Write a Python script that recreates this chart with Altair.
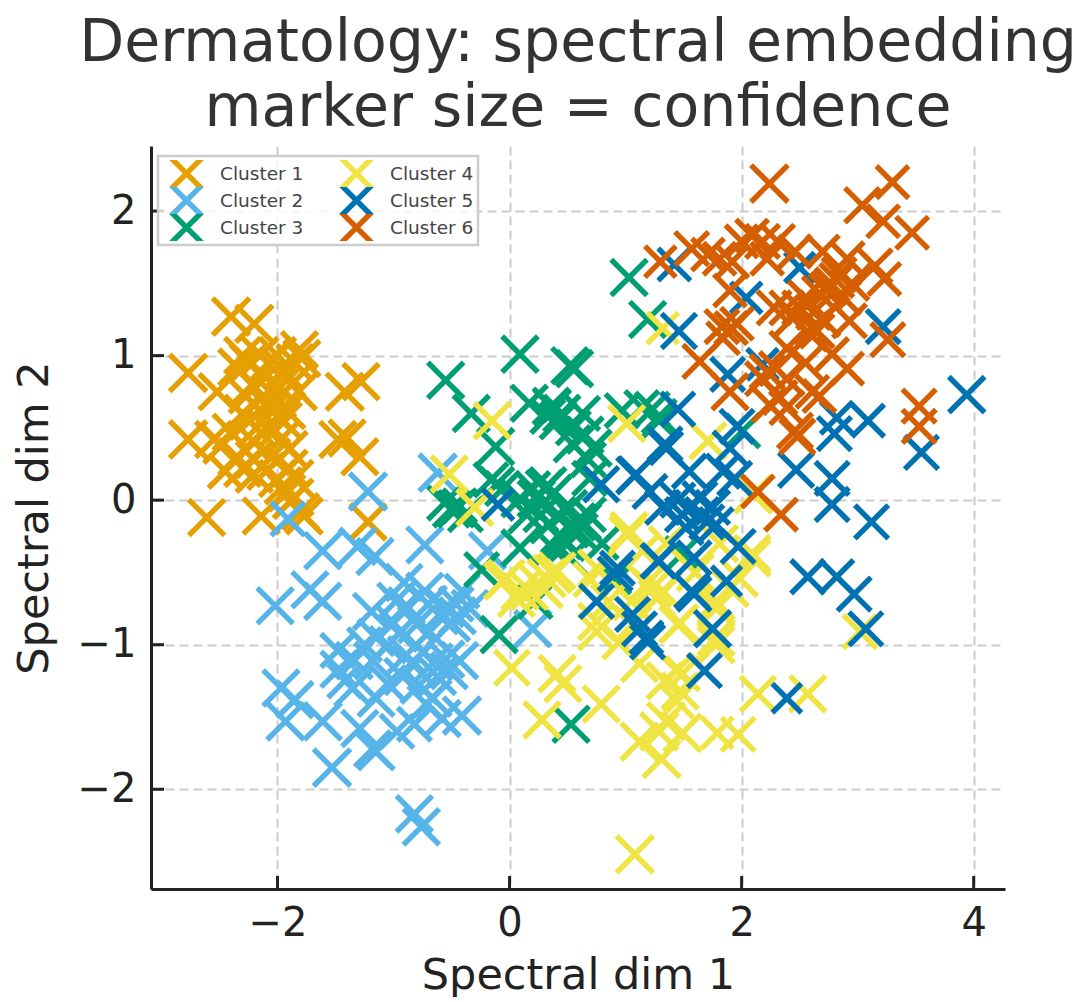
import altair as alt
import pandas as pd

names = ["Cluster 1", "Cluster 2", "Cluster 3", "Cluster 4", "Cluster 5", "Cluster 6"]
colors = ["#E69F00", "#56B4E9", "#009E73", "#F0E442", "#0072B2", "#D55E00"]
x_ticks = [-2, 0, 2, 4]
y_ticks = [-2, -1, 0, 1, 2]

c1 = [(-2.77,0.88,.85),(-2.40,1.27,.85),(-2.20,1.22,.85),(-2.52,0.75,.8),(-1.28,0.82,.8),(-1.42,0.75,.85),
(-2.77,0.42,.85),(-1.48,0.42,.8),(-1.40,0.43,.8),(-1.29,0.30,.8),(-1.81,1.04,.8),(-1.79,0.98,.8),
(-2.55,0.42,.8),(-2.48,0.38,.8),(-2.40,0.47,.8),(-2.35,0.30,.8),(-2.30,0.22,.8),(-2.25,0.55,.85),(-2.2,0.4,.8),
(-2.15,0.62,.8),(-2.1,0.5,.8),(-2.05,0.3,.8),(-2.0,0.7,.8),(-1.95,0.55,.8),(-1.9,0.35,.8),(-1.88,0.8,.8),
(-1.85,0.15,.8),(-1.92,0.05,.8),(-2.0,0.15,.8),(-2.1,0.2,.8),(-2.2,0.18,.8),(-2.3,0.6,.8),(-2.25,0.95,.8),
(-2.3,1.0,.8),(-2.15,1.0,.8),(-2.1,0.85,.8),(-2.0,1.0,.8),(-1.95,0.9,.8),(-1.85,0.95,.8),(-1.82,0.75,.8),
(-2.35,0.92,.8),(-2.22,0.8,.8),(-2.12,0.72,.8),(-2.05,0.62,.8),(-1.97,0.42,.8),(-1.9,0.22,.8),(-1.85,0.02,.8),
(-1.8,-0.08,.8),(-2.61,-0.12,.8),(-2.14,-0.11,.8),(-1.77,-0.11,.8),(-1.22,-0.15,.8),(-1.95,0.1,.8),(-1.88,0.0,.8),
(-2.45,0.2,.7),(-2.2,0.28,.8),(-2.02,0.48,.8),(-1.92,0.62,.8),(-2.18,0.5,.8),(-2.08,0.95,.8),(-1.98,0.78,.8),(-2.27,0.72,.7)]

c2 = [(-1.91,-0.13,.7),(-1.22,0.06,.85),(-1.61,-0.35,.8),(-1.31,-0.32,.8),(-1.16,-0.39,.8),(-0.73,-0.31,.8),
(-0.19,-0.35,.8),(-2.02,-0.73,.8),(-1.72,-0.62,.8),(-1.61,-0.70,.8),(-1.19,-0.77,.8),(-0.91,-0.57,.8),(-0.73,-0.63,.8),
(-0.41,-0.63,.7),(-0.34,-0.75,.8),(-0.46,-0.72,.7),(-0.89,-0.73,.8),(-1.15,-0.95,.8),(-0.80,-0.86,.8),(-0.69,-0.91,.8),
(-1.48,-1.04,.7),(-1.47,-1.17,.8),(-1.34,-1.11,.8),(-1.18,-1.11,.8),(-0.89,-1.07,.8),(-0.84,-1.13,.8),(-0.43,-1.11,.8),
(-0.52,-1.18,.8),(-1.35,-1.30,.8),(-1.15,-1.37,.8),(-0.72,-1.41,.8),(-0.66,-1.37,.8),(-0.82,-1.55,.7),(-0.41,-1.49,.85),
(-0.58,-1.51,.8),(-1.97,-1.30,.8),(-1.85,-1.38,.8),(-1.93,-1.53,.85),(-1.61,-1.53,.85),(-1.53,-1.85,.85),(-1.29,-1.58,.8),
(-1.15,-1.74,.8),(-1.18,-1.72,.8),(-0.97,-1.60,.7),(-0.82,-2.17,.8),(-0.76,-2.26,.8),(0.20,-0.89,.8),(-0.62,0.19,.85),
(-1.0,-0.85,.8),(-1.05,-1.0,.8),(-0.95,-0.92,.8),(-0.6,-0.8,.8),(-0.55,-0.75,.8),(-0.5,-0.85,.8),(-0.45,-0.8,.8),
(-0.75,-1.05,.8),(-0.65,-1.12,.8),(-0.55,-1.1,.8),(-0.92,-1.22,.8),(-0.78,-1.28,.8),(-0.62,-1.22,.8),(-1.05,-1.27,.8),
(-1.42,-1.25,.7),(-1.25,-1.0,.7),(-0.7,-0.72,.8),(-0.98,-0.7,.8)]

c3 = [(0.09,1.01,.8),(-0.55,0.83,.8),(-0.33,0.60,.8),(-0.12,0.37,.8),(0.52,0.93,.8),(0.56,0.91,.8),(0.17,0.67,.8),
(0.36,0.65,.8),(0.37,0.64,.8),(0.33,0.58,.7),(0.45,0.60,.8),(0.63,0.60,.7),(0.54,0.39,.8),(0.72,0.36,.8),(0.69,0.15,.7),
(0.97,0.62,.7),(1.14,0.64,.7),(1.29,0.58,.7),(-0.11,0.11,.7),(-0.16,0.14,.7),(-0.06,0.08,.7),(-0.46,-0.06,.8),(-0.50,-0.06,.8),
(-0.43,-0.04,.7),(0.30,0.08,.8),(0.23,0.01,.8),(0.09,0.01,.8),(0.63,-0.15,.8),(0.58,-0.15,.8),(0.43,-0.24,.8),(0.46,-0.28,.8),
(0.09,-0.33,.8),(-0.24,-0.48,.7),(0.52,-0.40,.7),(0.34,-0.17,.8),(0.22,-0.70,.7),(-0.09,-0.93,.8),(0.53,-1.55,.8),(1.03,1.54,.8),
(1.19,1.25,.8),(1.23,0.63,.7),(1.29,0.55,.7),(2.01,0.48,.7),(1.49,-0.37,.7),(0.42,0.55,.8),(0.55,0.5,.7),(0.65,0.45,.8),
(0.38,0.05,.8),(0.33,0.1,.8),(0.2,0.08,.7),(0.15,-0.1,.8),(0.27,-0.1,.7),(0.52,-0.05,.7),(0.68,-0.1,.7),(0.6,-0.22,.8),
(0.52,-0.2,.8),(0.42,-0.1,.7),(0.36,-0.32,.7),(0.5,-0.3,.7),(-0.56,-0.02,.7),(-0.38,-0.1,.7),(0.68,0.28,.7),(0.8,-0.3,.6),(0.92,-0.55,.5)]

c4 = [(1.08,-2.45,.85),(0.02,-1.16,.75),(0.41,-1.20,.8),(0.46,-1.27,.8),(0.79,-1.41,.8),(0.28,-1.52,.8),(1.12,-1.67,.85),
(1.31,-1.79,.85),(1.49,-1.61,.85),(1.35,-1.53,.85),(1.29,-1.60,.85),(1.79,-1.61,.6),(1.97,-1.62,.7),(2.14,-1.34,.75),(2.57,-1.34,.8),
(1.34,-1.25,.8),(1.47,-1.32,.8),(1.49,-1.20,.7),(1.44,-1.18,.7),(1.44,-1.39,.7),(1.12,-1.13,.8),(0.75,-0.84,.8),(1.06,-0.86,.8),
(1.47,-0.85,.8),(1.78,-1.00,.8),(1.18,-0.58,.8),(1.27,-0.68,.8),(1.78,-0.70,.8),(1.98,-0.54,.8),(2.09,-0.37,.8),(0.37,-0.51,.85),
(0.17,-0.63,.8),(0.09,-0.63,.8),(-0.03,-0.54,.8),(1.03,-0.21,.8),(0.75,-0.47,.8),(1.32,-0.63,.85),(-0.15,0.55,.8),(1.01,0.53,.8),
(-0.52,0.18,.8),(-0.30,-0.05,.8),(1.02,-0.24,.8),(-0.06,-0.56,.8),(0.32,-0.54,.85),(0.06,-0.68,.8),(0.41,-0.49,.8),(0.75,-0.91,.8),
(1.23,-0.61,.85),(1.45,-0.86,.8),(1.32,1.19,.6),(1.71,0.41,.8),(2.10,0.04,.85),(3.02,-0.91,.7),(2.09,-0.40,.8),(1.90,-0.61,.8),
(1.78,-0.75,.8),(1.78,-0.95,.8),(1.81,-0.30,.8),(1.05,-0.7,.8),(0.95,-0.98,.7),(0.3,-0.62,.8),(0.25,-0.58,.8),(0.85,-0.7,.7),
(1.35,-0.3,.7),(1.6,-0.5,.8),(0.7,-0.55,.7),(1.15,-0.35,.7)]

c5 = [(3.94,0.73,.8),(3.55,0.33,.7),(3.09,0.55,.65),(2.80,0.46,.7),(2.82,0.57,.65),(2.47,0.21,.75),(2.78,0.15,.7),(2.78,-0.03,.7),
(3.12,-0.15,.7),(2.57,-0.53,.7),(2.82,-0.53,.7),(2.97,-0.65,.7),(3.07,-0.89,.7),(2.39,-1.37,.53),(1.68,-1.18,.7),(1.75,-0.89,.8),
(1.57,-0.63,.7),(1.59,-0.65,.7),(1.87,-0.56,.55),(1.97,-0.32,.7),(1.28,-0.42,.7),(1.59,-0.40,.7),(1.18,-0.95,.65),(1.12,-0.89,.7),
(1.06,-0.79,.7),(1.90,0.36,.7),(1.96,0.51,.7),(1.35,0.36,.65),(1.45,0.63,.7),(1.08,0.17,.8),(1.21,0.06,.7),(1.55,0.20,.7),(1.84,0.20,.7),
(1.94,0.15,.7),(1.49,-0.10,.7),(1.66,-0.10,.7),(1.75,-0.05,.7),(1.64,0.01,.7),(1.32,-0.05,.7),(1.52,-0.19,.7),(1.78,-0.17,.7),
(0.93,-0.47,.7),(0.75,-0.70,.7),(1.19,-0.98,.7),(1.29,-0.42,.7),(-0.10,-0.03,.6),(0.79,0.11,.75),(1.09,0.18,.75),(1.34,0.39,.7),
(0.91,-0.51,.7),(1.42,1.63,.65),(1.46,1.17,.75),(3.22,1.20,.7),(2.04,1.40,.6),(2.50,1.61,.55),(1.88,0.87,.7),(2.18,0.94,.6),(1.55,-0.05,.7),(1.45,0.0,.7),(1.7,-0.15,.7)]

c6 = [(2.24,2.19,.85),(3.30,2.20,.65),(3.04,2.04,.75),(3.22,1.93,.65),(3.47,1.85,.65),(1.30,1.65,.6),(1.57,1.74,.7),(1.71,1.70,.65),
(1.81,1.67,.65),(2.00,1.79,.65),(2.09,1.83,.65),(2.18,1.79,.7),(2.31,1.79,.7),(2.22,1.67,.65),(2.46,1.72,.65),(1.92,1.65,.65),
(1.90,1.45,.65),(1.83,1.20,.7),(1.91,1.19,.65),(1.96,1.22,.65),(1.84,1.12,.65),(1.64,0.96,.7),(1.90,0.75,.8),(2.28,1.33,.7),(2.39,1.33,.7),
(2.76,1.47,.7),(2.78,1.49,.7),(2.82,1.52,.7),(2.73,1.45,.7),(2.67,1.43,.7),(2.84,1.56,.7),(2.91,1.67,.7),(3.15,1.62,.7),(3.23,1.53,.65),
(2.93,1.24,.7),(2.70,1.72,.65),(2.61,1.19,.7),(2.65,1.17,.7),(2.59,1.15,.7),(2.50,1.33,.7),(2.44,1.26,.7),(2.91,0.91,.65),(2.78,1.01,.65),
(3.26,1.11,.7),(2.39,1.05,.7),(2.18,0.84,.7),(2.30,0.91,.7),(2.39,0.84,.7),(2.22,0.89,.7),(2.67,0.72,.65),(2.61,0.75,.65),(2.24,0.66,.7),
(2.33,0.71,.7),(2.39,0.64,.7),(2.48,0.44,.75),(2.46,0.48,.75),(3.53,0.65,.7),(3.53,0.51,.7),(2.14,0.06,.65),(2.34,-0.10,.65),
(2.55,1.4,.7),(2.62,1.3,.7),(2.7,1.25,.7),(2.88,1.4,.7),(2.95,1.5,.7),(2.55,0.95,.7)]

rows = []
for name, pts in zip(names, [c1, c2, c3, c4, c5, c6]):
    for px, py, conf in pts:
        rows.append({"x": px, "y": py, "conf": conf, "cluster": name})
df = pd.DataFrame(rows)

W, H = 854, 743
X_SCALE = alt.Scale(domain=[-3.09, 4.27], nice=False, zero=False)
Y_SCALE = alt.Scale(domain=[-2.69, 2.45], nice=False, zero=False)
CROSS = "M-1,-1L1,1M-1,1L1,-1"
TEXT = "#333333"
INK = "#222222"

x_axis = alt.Axis(title="Spectral dim 1", values=x_ticks, grid=True, gridColor="#cccccc", gridWidth=2,
                  gridDash=[9, 5], ticks=False, labelPadding=14, labelFontSize=40, labelColor=INK,
                  titleFontSize=43, titleColor=INK, titleFontWeight="normal", titlePadding=11,
                  domainColor=INK, domainWidth=3, labelFont="DejaVu Sans", titleFont="DejaVu Sans", format="d")
y_axis = alt.Axis(title="Spectral dim 2", values=y_ticks, grid=True, gridColor="#cccccc", gridWidth=2,
                  gridDash=[9, 5], ticks=False, labelPadding=15, labelFontSize=40, labelColor=INK,
                  titleFontSize=43, titleColor=INK, titleFontWeight="normal", titlePadding=21,
                  domainColor=INK, domainWidth=3, labelFont="DejaVu Sans", titleFont="DejaVu Sans", format="d")

points = alt.Chart(df).mark_point(shape=CROSS, filled=False, strokeWidth=5.4, opacity=1).encode(
    x=alt.X("x:Q", scale=X_SCALE, axis=x_axis),
    y=alt.Y("y:Q", scale=Y_SCALE, axis=y_axis),
    color=alt.Color("cluster:N", scale=alt.Scale(domain=names, range=colors), legend=alt.Legend(
        title=None, orient="none", legendX=7, legendY=10, columns=2, symbolType=CROSS, symbolSize=1100,
        symbolStrokeWidth=5.4, rowPadding=0, columnPadding=28, labelFontSize=18.5, labelColor="#444444",
        labelFont="DejaVu Sans", fillColor="rgba(255,255,255,0.8)", strokeColor="#cccccc",
        padding=4, symbolOffset=5, labelOffset=14, symbolOpacity=1, clipHeight=27)),
    size=alt.Size("conf:Q", scale=alt.Scale(domain=[0, 1], range=[0, 1600]), legend=None),
)

x_marks = alt.Chart(pd.DataFrame({"v": x_ticks})).mark_rule(color=INK, strokeWidth=3).encode(
    x=alt.X("v:Q", scale=X_SCALE, axis=x_axis), y=alt.value(H), y2=alt.value(H - 13))
y_marks = alt.Chart(pd.DataFrame({"v": y_ticks})).mark_rule(color=INK, strokeWidth=3).encode(
    y=alt.Y("v:Q", scale=Y_SCALE, axis=y_axis), x=alt.value(0), x2=alt.value(13))

chart = alt.layer(points, x_marks, y_marks).properties(
    width=W, height=H, padding={"left": 5, "top": 5, "right": 0, "bottom": 0},
    title=alt.TitleParams(["Dermatology: spectral embedding", "marker size = confidence"], fontSize=58.5,
                          fontWeight="normal", color=TEXT, font="DejaVu Sans", anchor="middle", offset=8,
                          lineHeight=65),
).configure_view(stroke=None).configure_legend(strokeWidth=2.5)

chart.save("out.html", embed_options={"renderer": "svg", "actions": False})
